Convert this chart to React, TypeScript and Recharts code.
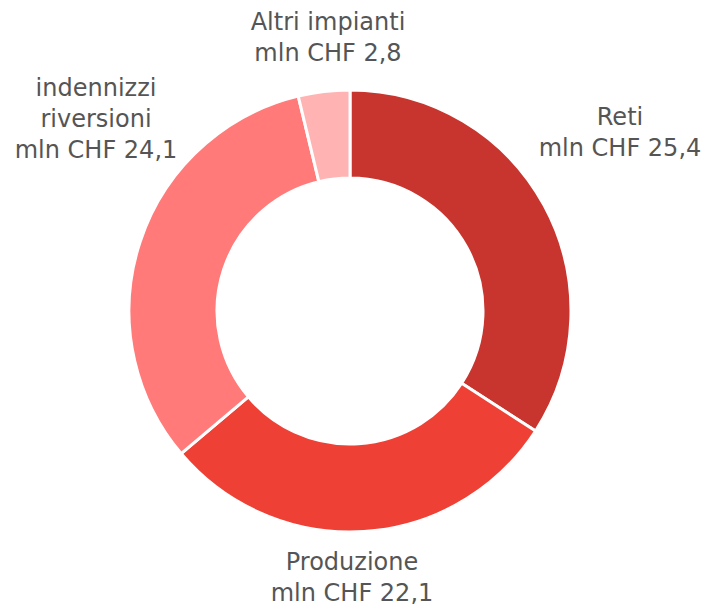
import { Cell, Pie, PieChart } from 'recharts'

const categories = ['Reti', 'Produzione', 'indennizzi riversioni', 'Altri impianti']
const values = [25.4, 22.1, 24.1, 2.8]
const valueLabels = ['mln CHF 25,4', 'mln CHF 22,1', 'mln CHF 24,1', 'mln CHF 2,8']
const titleLines = [['Reti'], ['Produzione'], ['indennizzi', 'riversioni'], ['Altri impianti']]

const colors = ['#C8352E', '#EF4036', '#FF7A78', '#FFB3B2']

// label block centers, relative to the pie centre
const labelOffset = [
  [270, -179],
  [2, 266],
  [-254, -192],
  [-22, -274],
]

const data = categories.map((name, i) => ({ name, value: values[i] }))

const LINE_H = 31

function renderLabel(props: any) {
  const { cx, cy, index } = props
  const lines = [...titleLines[index], valueLabels[index]]
  const [dx, dy] = labelOffset[index]
  const x = cx + dx
  const top = cy + dy - ((lines.length - 1) * LINE_H) / 2
  return (
    <text
      x={x}
      y={top}
      textAnchor="middle"
      dominantBaseline="central"
      fill="#555555"
      fontSize={24}
      fontFamily="'DejaVu Sans', sans-serif"
    >
      {lines.map((l, i) => (
        <tspan key={i} x={x} y={top + i * LINE_H}>
          {l}
        </tspan>
      ))}
    </text>
  )
}

export default function App() {
  return (
    <div style={{ position: 'absolute', left: 0, top: 0, width: 711, height: 608, background: '#fff' }}>
      <PieChart width={711} height={608} margin={{ top: 0, right: 0, bottom: 0, left: 0 }}>
        <Pie
          data={data}
          dataKey="value"
          nameKey="name"
          cx={350}
          cy={311}
          innerRadius={133}
          outerRadius={221}
          startAngle={90}
          endAngle={-270}
          stroke="#ffffff"
          strokeWidth={3}
          label={renderLabel}
          labelLine={false}
          isAnimationActive={false}
        >
          {data.map((d, i) => (
            <Cell key={d.name} fill={colors[i]} />
          ))}
        </Pie>
      </PieChart>
    </div>
  )
}
